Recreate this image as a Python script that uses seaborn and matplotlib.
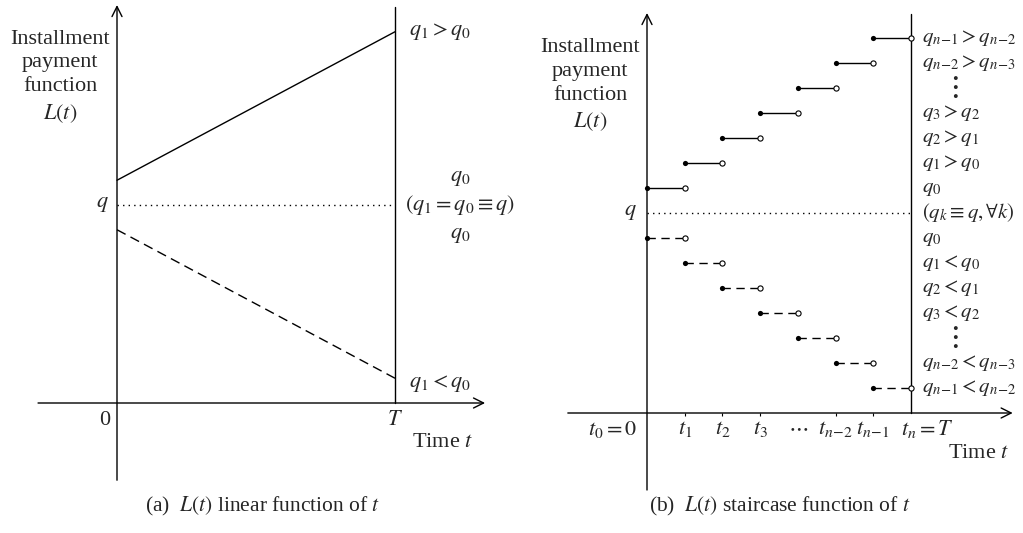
import numpy as np
import pandas as pd
import seaborn as sns
import matplotlib.pyplot as plt

# panel (a): linear installment function, q = 1, T = 1
lin_t = [0.0, 1.0]
lin_up = [1.125, 1.875]
lin_flat = [1.0, 1.0]
lin_down = [0.875, 0.125]

# panel (b): staircase on knots t_0..t_n (n = 7), levels in step units, q = 8
knots = [0, 1, 2, 3, 4, 5, 6, 7]
q_level = 8
stair_up = [9, 10, 11, 12, 13, 14, 15]
stair_down = [7, 6, 5, 4, 3, 2, 1]
tick_labels = ['$t_1$', '$t_2$', '$t_3$', r'$\cdots$', r'$t_{n\!-\!2}$', r'$t_{n\!-\!1}$']
up_labels = ['$q_0$', '$q_1 > q_0$', '$q_2 > q_1$', '$q_3 > q_2$', None,
             r'$q_{n\!-\!2} > q_{n\!-\!3}$', r'$q_{n\!-\!1} > q_{n\!-\!2}$']
down_labels = ['$q_0$', '$q_1 < q_0$', '$q_2 < q_1$', '$q_3 < q_2$', None,
               r'$q_{n\!-\!2} < q_{n\!-\!3}$', r'$q_{n\!-\!1} < q_{n\!-\!2}$']

sns.set_style('white')
plt.rcParams['font.family'] = ['Liberation Serif', 'DejaVu Serif']
plt.rcParams['mathtext.fontset'] = 'stix'
plt.rcParams['font.size'] = 16

W, H = 1023, 533
fig = plt.figure(figsize=(W / 100, H / 100), dpi=100)
ax1 = fig.add_axes([0, 0, 520 / W, 1])
ax2 = fig.add_axes([520 / W, 0, 503 / W, 1])

# pixel scales: panel a -> 278 px per T, 198 px per q ; panel b -> 37.7 px per step, 25 px per level
ax1.set_xlim(-117 / 278, (520 - 117) / 278)
ax1.set_ylim((403 - 533) / 198, 403 / 198)
ax2.set_xlim(-127 / 37.7, (503 - 127) / 37.7)
ax2.set_ylim((413 - 533) / 25, 413 / 25)
for ax in (ax1, ax2):
    ax.set_axis_off()


def arrow(ax, start, end):
    ax.annotate('', xy=end, xytext=start,
                arrowprops=dict(arrowstyle='->', lw=1.0, color='black',
                                mutation_scale=18, shrinkA=0, shrinkB=0))


# ---- panel (a)
arrow(ax1, (0, -0.39), (0, 2.01))
arrow(ax1, (-0.284, 0), (1.324, 0))
ax1.plot([1, 1], [0, 2.0], color='k', lw=1.0)
sns.lineplot(x=lin_t, y=lin_up, ax=ax1, color='k', lw=1.0)
sns.lineplot(x=lin_t, y=lin_flat, ax=ax1, color='k', lw=1.0, linestyle=(0, (1, 3)))
sns.lineplot(x=lin_t, y=lin_down, ax=ax1, color='k', lw=1.0, linestyle=(0, (7, 4)))

ax1.text(-0.205, 1.645, 'Installment\npayment\nfunction\n$L(t)$', ha='center', va='center',
         linespacing=1.35)
ax1.text(-0.03, lin_flat[0], '$q$', ha='right', va='center')
ax1.text(-0.043, -0.09, '0', ha='center', va='center')
ax1.text(lin_t[1], -0.09, '$T$', ha='center', va='center')
ax1.text(1.17, -0.2, 'Time $t$', ha='center', va='center')
ax1.text(1.05, lin_up[1], '$q_1 > q_0$', ha='left', va='center')
ax1.text(1.234, 1.136, '$q_0$', ha='center', va='center')
ax1.text(1.035, lin_flat[1], r'$(q_1 = q_0 \equiv q)$', ha='left', va='center')
ax1.text(1.234, 0.848, '$q_0$', ha='center', va='center')
ax1.text(1.05, 0.10, '$q_1 < q_0$', ha='left', va='center')
ax1.text(263 / 278 - 117 / 278, (403 - 506) / 198, '(a)  $L(t)$ linear function of $t$',
         ha='center', va='center', fontsize=15.5)

# ---- panel (b)
arrow(ax2, (0, -3.08), (0, 16.0))
arrow(ax2, (-2.1, 0), (9.7, 0))
ax2.plot([knots[-1], knots[-1]], [0, 15.95], color='k', lw=1.0)
ax2.vlines([1, 2, 3, 5, 6], -0.12, 0, color='k', lw=0.8)

rows = []
for i in range(len(knots) - 1):
    for kind, lev in (('up', stair_up[i]), ('down', stair_down[i])):
        rows.append({'seg': f'{kind}{i}', 'kind': kind, 't': knots[i], 'L': lev})
        rows.append({'seg': f'{kind}{i}', 'kind': kind, 't': knots[i + 1], 'L': lev})
steps = pd.DataFrame(rows)
sns.lineplot(data=steps, x='t', y='L', units='seg', estimator=None, style='kind',
             dashes={'up': '', 'down': (6, 4)}, color='k', lw=1.0, legend=False, ax=ax2)
ax2.plot([knots[0], knots[-1]], [q_level, q_level], color='k', lw=1.0, linestyle=(0, (1, 3)))

closed_t = knots[:-1] * 2
closed_L = stair_up + stair_down
open_t = knots[1:] * 2
sns.scatterplot(x=closed_t, y=closed_L, ax=ax2, color='k', s=14, linewidth=0, zorder=5)
sns.scatterplot(x=open_t, y=closed_L, ax=ax2, facecolor='white', edgecolor='k', s=14,
                linewidth=0.8, zorder=5)

ax2.text(-1.51, 13.1, 'Installment\npayment\nfunction\n$L(t)$', ha='center', va='center',
         linespacing=1.35)
ax2.text(-0.27, q_level, '$q$', ha='right', va='center')
ax2.text(-0.27, -0.64, '$t_0 = 0$', ha='right', va='center')
for k, lab in zip(knots[1:-1], tick_labels):
    ax2.text(k, -0.64, lab, ha='center', va='center')
ax2.text(knots[-1] - 0.25, -0.64, '$t_n = T$', ha='left', va='center')
ax2.text(8.8, -1.6, 'Time $t$', ha='center', va='center')

lab_fs = 15
for lev, lab in zip(stair_up, up_labels):
    if lab is None:
        ax2.text(8.12, lev, r'$\vdots$', ha='center', va='center', fontsize=22)
    else:
        ax2.text(7.29, lev, lab, ha='left', va='center', fontsize=lab_fs)
for lev, lab in zip(stair_down, down_labels):
    if lab is None:
        ax2.text(8.12, lev, r'$\vdots$', ha='center', va='center', fontsize=22)
    else:
        ax2.text(7.29, lev, lab, ha='left', va='center', fontsize=lab_fs)
ax2.text(7.29, q_level, r'$(q_k \equiv q, \forall k)$', ha='left', va='center', fontsize=lab_fs)
ax2.text((780 - 647) / 37.7, (413 - 506) / 25, '(b)  $L(t)$ staircase function of $t$',
         ha='center', va='center', fontsize=15.5)

fig.savefig('out.png', dpi=100)
